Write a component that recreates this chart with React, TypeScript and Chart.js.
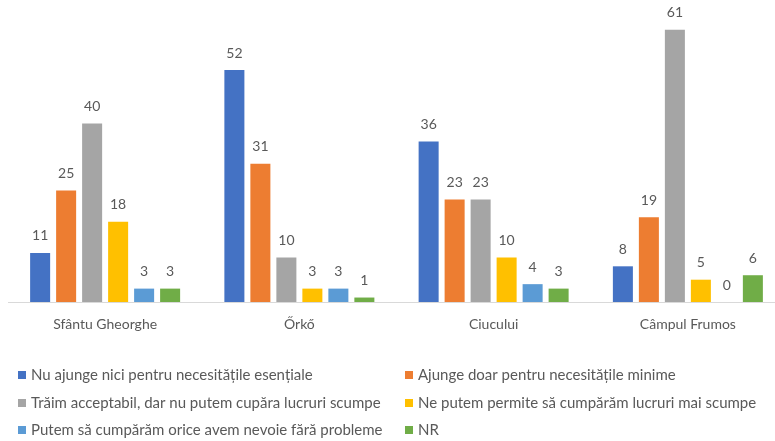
import React, { useEffect, useRef } from "react";
import { Chart, registerables } from "chart.js";

Chart.register(...registerables);

const categories = ["Sfântu Gheorghe", "Őrkő", "Ciucului", "Câmpul Frumos"];
const seriesNames = [
  "Nu ajunge nici pentru necesitățile esențiale",
  "Ajunge doar pentru necesitățile minime",
  "Trăim acceptabil, dar nu putem cupăra lucruri scumpe",
  "Ne putem permite să cumpărăm lucruri mai scumpe",
  "Putem să cumpărăm orice avem nevoie fără probleme",
  "NR",
];
const nuAjunge = [11, 52, 36, 8];
const ajungeDoar = [25, 31, 23, 19];
const traimAcceptabil = [40, 10, 23, 61];
const nePutemPermite = [18, 3, 10, 5];
const putemOrice = [3, 3, 4, 0];
const nr = [3, 1, 3, 6];
const seriesValues = [nuAjunge, ajungeDoar, traimAcceptabil, nePutemPermite, putemOrice, nr];
const colors = ["#4472C4", "#ED7D31", "#A5A5A5", "#FFC000", "#5B9BD5", "#70AD47"];

const FONT = "Lato, 'Open Sans', sans-serif";
const TEXT = "#595959";

const labelPlugin = {
  id: "valueLabels",
  afterDatasetsDraw(chart: any) {
    const ctx = chart.ctx;
    ctx.save();
    ctx.font = `14px ${FONT}`;
    ctx.fillStyle = TEXT;
    ctx.textAlign = "center";
    ctx.textBaseline = "middle";
    chart.data.datasets.forEach((ds: any, i: number) => {
      const meta = chart.getDatasetMeta(i);
      meta.data.forEach((el: any, j: number) => {
        ctx.fillText(String(ds.data[j]), el.x, el.y - 17);
      });
    });
    ctx.restore();
  },
};

const legendPlugin = {
  id: "gridLegend",
  afterDraw(chart: any) {
    const ctx = chart.ctx;
    ctx.save();
    ctx.font = `15px ${FONT}`;
    ctx.textBaseline = "middle";
    ctx.textAlign = "left";
    const colX = [18, 405];
    const rowY = [375, 403, 430];
    chart.data.datasets.forEach((ds: any, i: number) => {
      const col = i % 2;
      const row = Math.floor(i / 2);
      const x = colX[col];
      const y = rowY[row];
      ctx.fillStyle = ds.backgroundColor;
      ctx.fillRect(x, y - 4, 8, 8);
      ctx.fillStyle = TEXT;
      ctx.fillText(ds.label, x + 13, y);
    });
    ctx.restore();
  },
};

export default function App() {
  const ref = useRef<HTMLCanvasElement>(null);
  useEffect(() => {
    document.body.style.margin = "0";
    document.body.style.overflow = "hidden";
    const chart = new Chart(ref.current!, {
      type: "bar",
      data: {
        labels: categories,
        datasets: seriesValues.map((vals, i) => ({
          label: seriesNames[i],
          data: vals,
          backgroundColor: colors[i],
          categoryPercentage: 0.803,
          barPercentage: 0.77,
        })),
      },
      options: {
        animation: false,
        responsive: false,
        maintainAspectRatio: false,
        layout: { padding: { top: 12, left: 8, right: 0, bottom: 99 } },
        plugins: {
          legend: { display: false },
          tooltip: { enabled: false },
        },
        scales: {
          x: {
            grid: { display: false, drawTicks: false },
            border: { display: true, color: "#D9D9D9", width: 1 },
            ticks: { color: TEXT, font: { family: FONT, size: 14 }, padding: 14 },
            afterFit: (scale: any) => {
              scale.height = 40;
            },
          },
          y: {
            display: false,
            min: 0,
            max: 65,
          },
        },
      },
      plugins: [labelPlugin, legendPlugin],
    });
    return () => chart.destroy();
  }, []);
  return (
    <div style={{ width: 785, height: 441, overflow: "hidden" }}>
      <canvas ref={ref} width={785} height={441} style={{ display: "block" }} />
    </div>
  );
}
